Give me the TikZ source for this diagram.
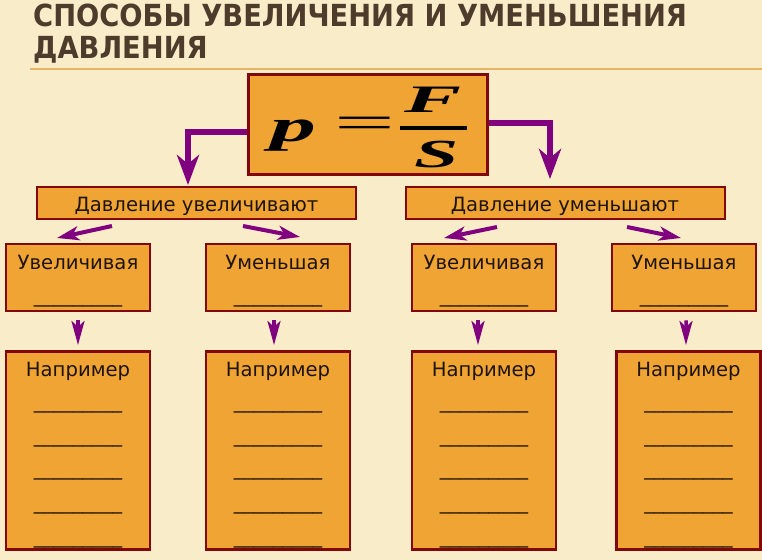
\documentclass[tikz,border=0pt]{standalone}
\usepackage{fontspec}
\setmainfont{DejaVu Sans}
\newfontfamily\titlefont{DejaVu Sans Condensed}
\newfontfamily\formfont{Liberation Serif}
\usetikzlibrary{arrows.meta,positioning,calc}

\definecolor{bgcream}{RGB}{249,236,200}
\definecolor{boxorange}{RGB}{240,164,52}
\definecolor{boxred}{RGB}{130,8,8}
\definecolor{arrowpurple}{RGB}{128,0,128}
\definecolor{titlebrown}{RGB}{77,59,43}
\definecolor{rulegold}{RGB}{230,180,100}
\definecolor{inkdark}{RGB}{30,20,10}

\newcommand{\blankline}{\_\_\_\_\_\_\_\_\_}

\tikzset{
  formbox/.style={draw=boxred,line width=3bp,fill=boxorange,minimum width=239bp,minimum height=100bp,inner sep=0pt},
  formsym/.style={inner sep=0pt,anchor=base,text=black},
  groupbox/.style={draw=boxred,line width=2bp,fill=boxorange,minimum width=319bp,inner sep=0pt,
    text height=25bp,text depth=7bp,text=inkdark,font=\fontsize{19.7}{20}\selectfont},
  waybox/.style={draw=boxred,line width=2.5bp,fill=boxorange,minimum width=144bp,inner sep=0pt,anchor=north,
    align=center,text=inkdark,font=\fontsize{19.7}{33}\selectfont},
  examplebox/.style={waybox,font=\fontsize{19.7}{34}\selectfont},
  bigarrow/.style={draw=arrowpurple,line width=6bp,-{Stealth[length=30bp,width=22bp,inset=9bp]}},
  diagarrow/.style={draw=arrowpurple,line width=4bp,-{Stealth[length=22bp,width=14bp,inset=6bp]}},
  smallarrow/.style={draw=arrowpurple,line width=3.5bp,-{Stealth[length=24bp,width=13bp,inset=6bp]}}
}

\begin{document}
\begin{tikzpicture}[x=1bp,y=-1bp]
  \fill[bgcream] (0,0) rectangle (762,560);
  \useasboundingbox (0,0) rectangle (762,560);
  % title
  \node[anchor=north west,align=left,inner sep=0pt,text=titlebrown,
        font=\titlefont\bfseries\fontsize{30.5}{32}\selectfont] (title) at (33,4)
        {СПОСОБЫ УВЕЛИЧЕНИЯ И УМЕНЬШЕНИЯ\\ДАВЛЕНИЯ};
  \draw[rulegold,line width=2bp] (30,69) -- (762,69);
  % formula
  \node[formbox] (form) at (367.5,125) {};
  \node[formsym,font=\formfont\bfseries\itshape\fontsize{46}{46}\selectfont] (fp) at (293,142) {\scalebox{2}[1]{p}};
  \node[formsym,font=\formfont\fontsize{47}{47}\selectfont] (feq) at (365,139) {\scalebox{2.3}[1]{=}};
  \node[formsym,font=\formfont\bfseries\itshape\fontsize{39}{39}\selectfont] (fF) at (433,113) {\scalebox{2.2}[1]{F}};
  \node[formsym,font=\formfont\bfseries\itshape\fontsize{40}{40}\selectfont] (fS) at (437,168) {\scalebox{2}[1]{S}};
  \draw[black,line width=4bp] (400,128) -- (467,128);
  % second level
  \node[groupbox] (inc) at (196.5,203) {Давление увеличивают};
  \node[groupbox] (dec) at (565,203) {Давление уменьшают};
  \draw[bigarrow,shorten >=1bp] ([yshift=-7bp]form.west) -| ([xshift=-8.5bp]inc.north);
  \draw[bigarrow,shorten >=7bp] ([yshift=2bp]form.east) -| ([xshift=-15bp]dec.north);
  % third level
  \node[waybox] (incA) at (78,243) {\rule{0pt}{25bp}Увеличивая\\\rule[-9bp]{0pt}{9bp}\blankline};
  \node[waybox] (incB) at (278,243) {\rule{0pt}{25bp}Уменьшая\\\rule[-9bp]{0pt}{9bp}\blankline};
  \node[waybox] (decA) at (484,243) {\rule{0pt}{25bp}Увеличивая\\\rule[-9bp]{0pt}{9bp}\blankline};
  \node[waybox] (decB) at (684,243) {\rule{0pt}{25bp}Уменьшая\\\rule[-9bp]{0pt}{9bp}\blankline};
  \draw[diagarrow] ([xshift=-84.5bp,yshift=-6bp]inc.south) -- ([xshift=-21bp,yshift=5bp]incA.north);
  \draw[diagarrow] ([xshift=46.5bp,yshift=-6bp]inc.south) -- ([xshift=22bp,yshift=6bp]incB.north);
  \draw[diagarrow] ([xshift=-68bp,yshift=-7bp]dec.south) -- ([xshift=-40bp,yshift=5bp]decA.north);
  \draw[diagarrow] ([xshift=62bp,yshift=-7bp]dec.south) -- ([xshift=-3bp,yshift=5bp]decB.north);
  % fourth level
  \foreach \n/\x in {exA/78,exB/278,exC/484,exD/688.5}
    \node[examplebox] (\n) at (\x,350)
      {\rule{0pt}{25bp}Например\\[-2bp]\blankline\\\blankline\\\blankline\\\blankline\\\rule[-6bp]{0pt}{6bp}\blankline};
  \foreach \a/\b/\s/\t in {incA/exA/0/0,incB/exB/-4/-4,decA/exC/-6/-6,decB/exD/2/-2.5}
    \draw[smallarrow,shorten <=8bp,shorten >=5bp] ([xshift=\s bp]\a.south) -- ([xshift=\t bp]\b.north);
\end{tikzpicture}
\end{document}
